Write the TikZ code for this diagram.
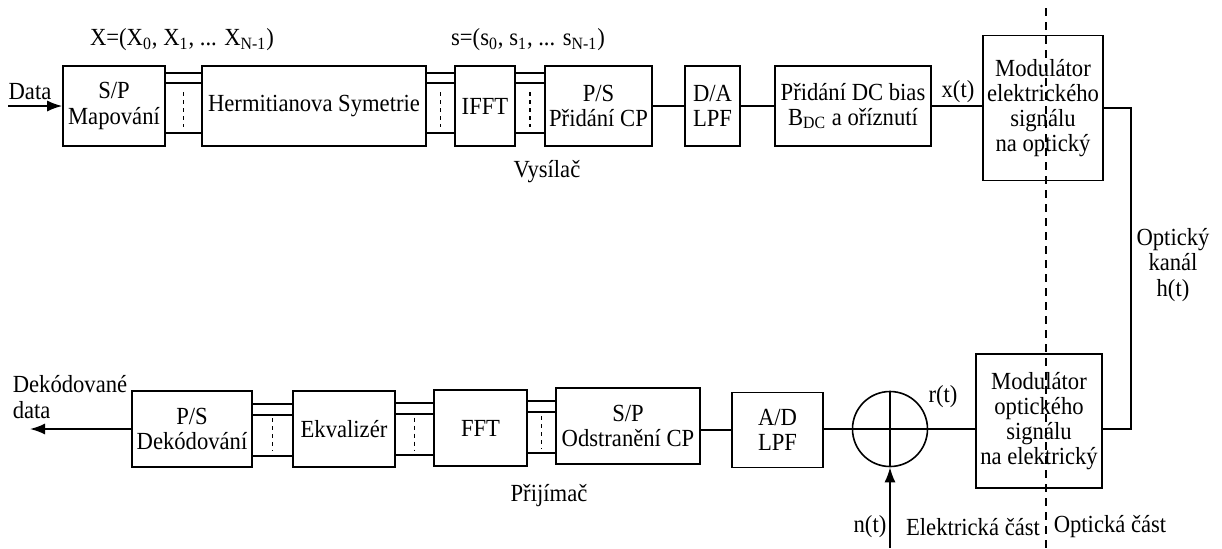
\documentclass[tikz,border=0pt]{standalone}
\usepackage{fontspec}
\setmainfont{Liberation Serif}[FakeStretch=0.92]
\usetikzlibrary{arrows.meta,calc}
\begin{document}
\begin{tikzpicture}[
        x=0.5pt,y=-0.5pt,
        font=\fontsize{12.3}{12.6}\selectfont,
        line width=0.8pt,
        block/.style={draw,align=center,inner sep=0.5pt,minimum height=40pt},
        busdash/.style={line width=0.6pt,dash pattern=on 2pt off 2pt},
        border/.style={line width=0.6pt,dash pattern=on 4pt off 3pt},
        >={Latex[length=7.5pt,width=5.5pt]}
    ]
    \useasboundingbox (0,0) rectangle (1222,548);
    % vysilac
    \node[block,minimum width=51pt] (sp) at (114,106) {S/P\\Mapování};
    \node[block,minimum width=112pt] (herm) at (314,106) {Hermitianova Symetrie};
    \node[block,minimum width=30pt] (ifft) at (485,106) {IFFT};
    \node[block,minimum width=53.5pt] (ps) at (598.5,106) {P/S\\Přidání CP};
    \node[block,minimum width=27.5pt] (da) at (712.5,106) {D/A\\LPF};
    \node[block,minimum width=78pt] (dc) at (853,106) {Přidání DC bias\\B\textsubscript{DC} a oříznutí};
    \node[block,minimum width=60pt,minimum height=72.5pt] (modE) at (1043,108)
        {Modulátor\\elektrického\\signálu\\na optický};
    % prijimac
    \node[block,minimum width=60pt,minimum height=38pt] (psd) at (192,429) {P/S\\Dekódování};
    \node[block,minimum width=51pt,minimum height=38pt] (ekv) at (344,429) {Ekvalizér};
    \node[block,minimum width=46.5pt,minimum height=38pt] (fft) at (480.5,428) {FFT};
    \node[block,minimum width=72pt,minimum height=38pt] (spo) at (628,426) {S/P\\Odstranění CP};
    \node[block,minimum width=45.5pt,minimum height=37.5pt] (ad) at (777.5,430) {A/D\\LPF};
    \node[draw,circle,minimum size=37.5pt,inner sep=0pt] (sum) at (890,429) {};
    \node[block,minimum width=63pt,minimum height=67pt] (modO) at (1039,421)
        {Modulátor\\optického\\signálu\\na elektrický};
    \coordinate (in) at (8,106);
    \coordinate (out) at (30,428);
    \coordinate (ch) at (1131,0);
    \coordinate (nt) at (890,548);
    % paralelni sbernice
    \foreach \a/\b in {sp/herm,herm/ifft,ifft/ps} {
        \foreach \d in {16.5pt,11.5pt,-13.5pt}
            \draw ([yshift=\d]\a.east) -- ([yshift=\d]\a.east -| \b.west);
        \coordinate (m) at ($(\a.east)!.5!(\b.west)$);
        \draw[busdash] ([yshift=7pt]m) -- ([yshift=-10.5pt]m);
    }
    \foreach \a/\b in {psd/ekv,ekv/fft,fft/spo} {
        \foreach \d in {12.5pt,7pt,-13.5pt}
            \draw ([yshift=\d]\b.west -| \a.east) -- ([yshift=\d]\b.west);
        \coordinate (m) at ($(\a.east)!.5!(\b.west)$);
        \draw[busdash] ([yshift=5.5pt]m) -- ([yshift=-11pt]m);
    }
    % spoje
    \draw[->] (in) -- (in -| sp.west);
    \draw (ps.east) -- (ps.east -| da.west);
    \draw (da.east) -- (da.east -| dc.west);
    \draw (dc.east) -- (dc.east -| modE.west);
    \draw (modE.east) -- (modE.east -| ch) -- (ch |- sum) -- (sum -| modO.east);
    \draw (modO.west |- sum) -- (sum.east);
    \draw (sum.west) -- (sum.west -| ad.east);
    \draw (ad.west) -- (ad.west -| spo.east);
    \draw[->] (psd.west) -- (psd.west -| out);
    \draw (sum.north) -- (sum.south) (sum.west) -- (sum.east);
    \draw[->] (nt) -- (sum.south);
    % popisky
    \node at (30,92) {Data};
    \node at (182,40) {X=(X\textsubscript{0}, X\textsubscript{1}, ... X\textsubscript{N-1})};
    \node at (528,40) {s=(s\textsubscript{0}, s\textsubscript{1}, ... s\textsubscript{N-1})};
    \node at (958,92) {x(t)};
    \node at (547,172) {Vysílač};
    \node[align=center] at (1173,265) {Optický\\kanál\\h(t)};
    \node[align=left,anchor=west,inner sep=0pt] at (12,397) {Dekódované\\data};
    \node at (943,397) {r(t)};
    \node at (549,496) {Přijímač};
    \node at (870,527) {n(t)};
    \node at (973,527) {Elektrická část};
    \node at (1110,527) {Optická část};
    % hranice elektricka/opticka cast
    \draw[border] (1046,8) -- (1046,548);
\end{tikzpicture}
\end{document}
